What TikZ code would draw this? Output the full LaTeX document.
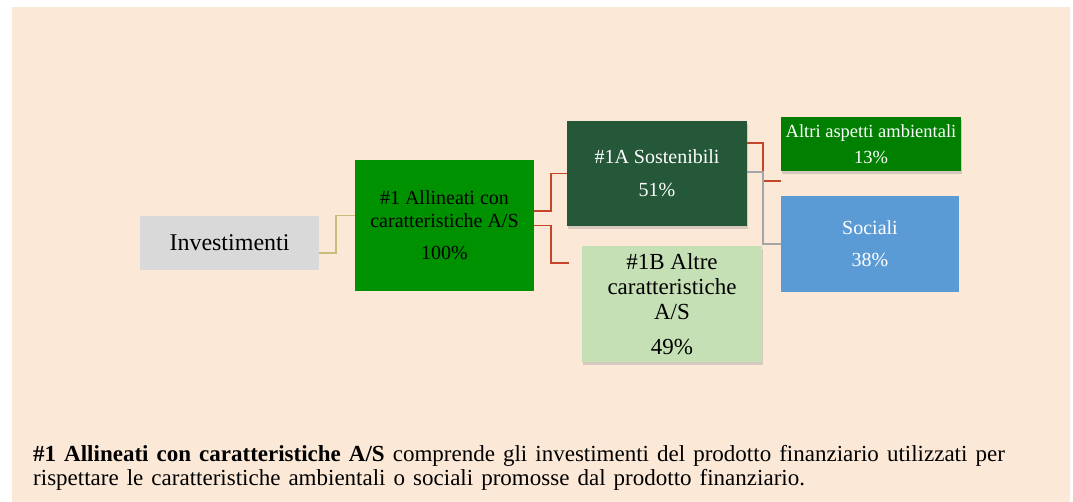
\documentclass[tikz,border=0pt]{standalone}
\usepackage{fontspec}
\setmainfont{Liberation Serif}
\newfontfamily\notefont[WordSpace=1.4]{Liberation Serif}
\usetikzlibrary{positioning,shadows}
\definecolor{peach}{HTML}{FBE8D7}
\definecolor{invgray}{HTML}{D9D9D9}
\definecolor{allgreen}{HTML}{009100}
\definecolor{sostgreen}{HTML}{255839}
\definecolor{altrecol}{HTML}{C5E0B4}
\definecolor{ambgreen}{HTML}{007F00}
\definecolor{socblue}{HTML}{5B9BD5}
\definecolor{redline}{HTML}{C5452A}
\definecolor{khaki}{HTML}{C8BD7B}
\definecolor{grayline}{HTML}{A6A6A6}

\begin{document}
\begin{tikzpicture}[x=1pt, y=-1pt, node distance=215pt,
    box/.style={inner sep=0pt, align=center, minimum width=180pt},
    shade/.style={drop shadow={opacity=0.3, shadow xshift=1pt, shadow yshift=-3pt}},
    link/.style={line width=1.6pt}]
    \tikzset{font={\fontsize{20pt}{23pt}\selectfont}}
    \useasboundingbox (0,0) rectangle (1073,502);
    \fill [peach] (12,7) rectangle (1070,502);
    \node [box, fill=invgray, minimum width=179pt, minimum height=54pt, font={\fontsize{24pt}{27pt}\selectfont}] (inv) at (229.5,243) {Investimenti};
    \node [box, fill=allgreen, minimum width=179pt, minimum height=131pt, right of=inv, yshift=17.5pt] (all) {\#1 Allineati con\\caratteristiche A/S\\[9pt]100\%};
      \node [box, shade, fill=sostgreen, text=white, minimum height=105pt, right of=all, node distance=212.5pt, yshift=52pt] (sost) {\#1A Sostenibili\\[10pt]51\%};
      \node [box, shade, fill=altrecol, minimum height=116pt, right of=all, node distance=227.5pt, yshift=-78.5pt, font={\fontsize{23pt}{25pt}\selectfont}] (altre) {\#1B Altre\\caratteristiche\\A/S\\[10pt]49\%};
        \node [box, shade, fill=ambgreen, text=white, minimum height=54pt, right of=sost, node distance=214pt, yshift=29.5pt, font={\fontsize{18.5pt}{20pt}\selectfont}] (amb) {Altri aspetti ambientali\\[6pt]13\%};
        \node [box, fill=socblue, text=white, minimum width=178pt, minimum height=96pt, right of=sost, node distance=213pt, yshift=-70.5pt] (soc) {Sociali\\[9pt]38\%};
    \coordinate (altreend) at ([xshift=-13pt, yshift=41pt]altre.west);
    \coordinate (ambend) at ([yshift=-10pt]amb.south west);
    \draw [link, khaki] ([yshift=-10pt]inv.east) -- ++(17,0) |- ([yshift=10pt]all.west);
      \draw [link, redline] ([yshift=14.5pt]all.east) -- ++(17,0) |- (sost.west);
      \draw [link, redline] (all.east) -- ++(17,0) |- (altreend);
        \draw [link, redline] ([yshift=30.5pt]sost.east) -- ++(16,0) |- (ambend);
        \draw [link, grayline] ([yshift=1.5pt]sost.east) -- ++(16,0) |- (soc.west);
    \node [anchor=base west, align=left, inner sep=0pt, font={\notefont\fontsize{23pt}{24.5pt}\selectfont}] (note) at (33,485.5) {\textbf{\#1 Allineati con caratteristiche A/S} comprende gli investimenti del prodotto finanziario utilizzati per\\rispettare le caratteristiche ambientali o sociali promosse dal prodotto finanziario.};
\end{tikzpicture}
\end{document}
